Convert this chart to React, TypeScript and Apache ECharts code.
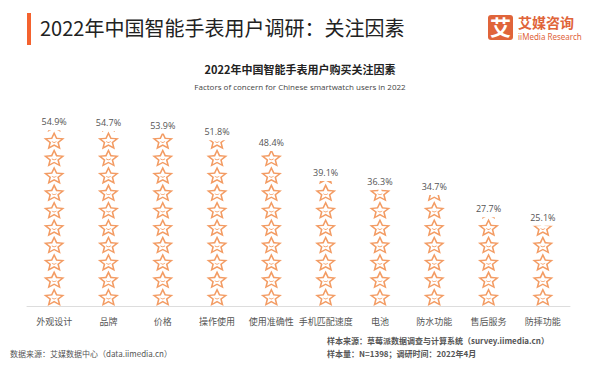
import React, { useEffect, useRef } from "react";
import * as echarts from "echarts";

const categories = ["外观设计", "品牌", "价格", "操作使用", "使用准确性", "手机匹配速度", "电池", "防水功能", "售后服务", "防摔功能"];
const values = [54.9, 54.7, 53.9, 51.8, 48.4, 39.1, 36.3, 34.7, 27.7, 25.1];

const STAR =
  "path://M50 4 L62.9 34.2 L95.6 37.2 L70.9 58.8 L78.2 90.8 L50 74 L21.8 90.8 L29.1 58.8 L4.4 37.2 L37.1 34.2 Z " +
  "M50 21 L41.8 40.7 L20.5 42.4 L36.7 56.3 L31.8 77.1 L50 66 L68.2 77.1 L63.3 56.3 L79.5 42.4 L58.2 40.7 Z " +
  "M40 50 Q50 60 60 50 L60 54 Q50 65 40 54 Z";

export default function App() {
  const ref = useRef<HTMLDivElement>(null);
  useEffect(() => {
    const chart = echarts.init(ref.current!, null, { renderer: "svg" });
    const orange = "#F39C64";
    chart.setOption({
      animation: false,
      backgroundColor: "#fff",
      graphic: [
        { type: "rect", left: 27, top: 13, shape: { width: 4, height: 32 }, style: { fill: "#F4622E" } },
        {
          type: "text", left: 40, top: 17,
          style: { text: "2022年中国智能手表用户调研：关注因素", fontSize: 20, fill: "#222", fontFamily: "Noto Sans CJK SC" },
        },
        { type: "rect", left: 488, top: 15, shape: { width: 25, height: 25, r: 3 }, style: { fill: "#E0643A" } },
        {
          type: "text", left: 490, top: 15,
          style: { text: "艾", fontSize: 21, fontWeight: "bold", fill: "#fff", fontFamily: "Noto Sans CJK SC" },
        },
        {
          type: "text", left: 518, top: 15,
          style: { text: "艾媒咨询", fontSize: 14, fontWeight: "bold", fill: "#E0643A", fontFamily: "Noto Sans CJK SC" },
        },
        {
          type: "text", left: 518, top: 32,
          style: { text: "iiMedia Research", fontSize: 8, fill: "#E0643A", fontFamily: "Noto Sans" },
        },
        {
          type: "text", left: "center", top: 63,
          style: { text: "2022年中国智能手表用户购买关注因素", fontSize: 11, fontWeight: "bold", fill: "#222", fontFamily: "Noto Sans CJK SC" },
        },
        {
          type: "text", left: "center", top: 82,
          style: { text: "Factors of concern for Chinese smartwatch users in 2022", fontSize: 8, fill: "#444", fontFamily: "Open Sans" },
        },
        {
          type: "text", left: 10, top: 349,
          style: { text: "数据来源：艾媒数据中心（data.iimedia.cn）", fontSize: 8, fill: "#555", fontFamily: "Noto Sans CJK SC" },
        },
        {
          type: "text", left: 327, top: 336,
          style: { text: "样本来源：草莓派数据调查与计算系统（survey.iimedia.cn）", fontSize: 8, fontWeight: "bold", fill: "#555", fontFamily: "Noto Sans CJK SC" },
        },
        {
          type: "text", left: 327, top: 349,
          style: { text: "样本量：N=1398；调研时间：2022年4月", fontSize: 8, fontWeight: "bold", fill: "#555", fontFamily: "Noto Sans CJK SC" },
        },
      ],
      grid: { left: 27, right: 30, top: 114, bottom: 59 },
      xAxis: {
        type: "category",
        data: categories,
        axisLine: { lineStyle: { color: "#ddd" } },
        axisTick: { show: false },
        axisLabel: { interval: 0, fontSize: 9, color: "#555", margin: 11, fontFamily: "Noto Sans CJK SC" },
      },
      yAxis: { type: "value", min: 0, max: 60, show: false, splitLine: { show: false } },
      series: [
        {
          type: "pictorialBar",
          data: values,
          symbol: STAR,
          symbolSize: [21, 18],
          symbolRepeat: true,
          symbolMargin: 0.2,
          symbolClip: true,
          symbolBoundingData: 60,
          z: 3,
          itemStyle: { color: orange },
        },
        {
          type: "bar",
          data: values,
          barWidth: 18,
          itemStyle: { color: "rgba(0,0,0,0)" },
          label: {
            show: true, position: "top", formatter: "{c}%", fontSize: 9, color: "#555",
            distance: 4, fontFamily: "Open Sans",
          },
        },
      ],
    });
    return () => chart.dispose();
  }, []);
  return <div ref={ref} style={{ width: 600, height: 365, position: "absolute", left: 0, top: 0 }} />;
}
